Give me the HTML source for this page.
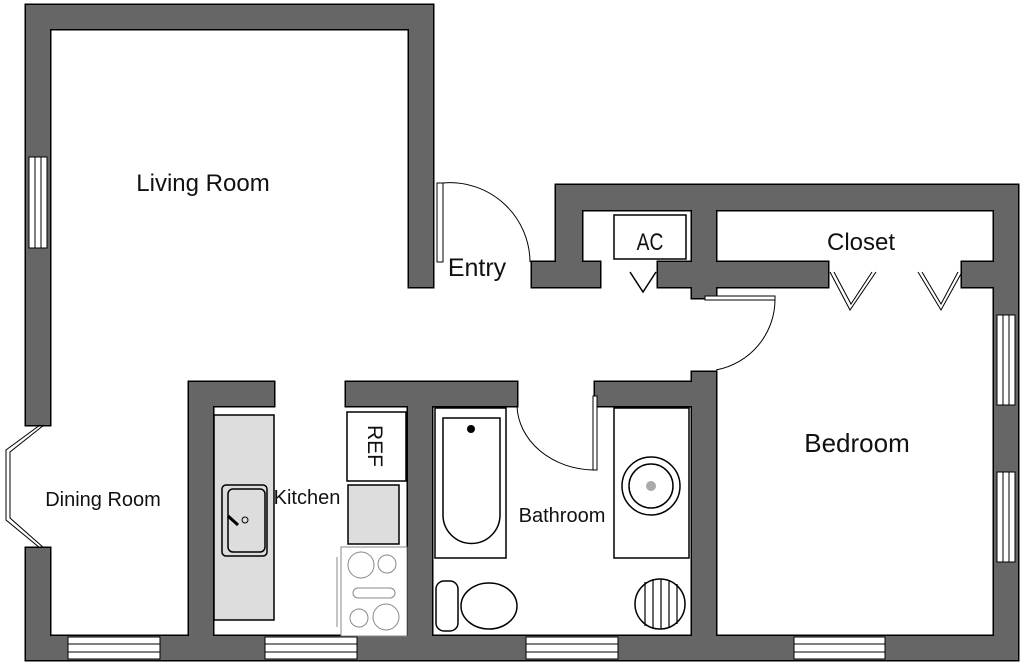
<!DOCTYPE html>
<html><head><style>body{margin:0;background:#fff}svg{display:block}text{font-family:"Liberation Sans",sans-serif;fill:#111}</style></head><body>
<svg width="1024" height="666" viewBox="0 0 1024 666">
<defs>
<g id="walls">
<rect x="26" y="5" width="407" height="24"/>
<rect x="26" y="5" width="24" height="420"/>
<rect x="26" y="548" width="24" height="112"/>
<rect x="409" y="5" width="24" height="282"/>
<rect x="532" y="262" width="68" height="25"/>
<rect x="556" y="185" width="462" height="25"/>
<rect x="556" y="185" width="26" height="102"/>
<rect x="692" y="185" width="24" height="113"/>
<rect x="658" y="262" width="170" height="25"/>
<rect x="962" y="262" width="56" height="25"/>
<rect x="994" y="185" width="24" height="475"/>
<rect x="26" y="636" width="992" height="24"/>
<rect x="189" y="382" width="85" height="24"/>
<rect x="189" y="382" width="24" height="254"/>
<rect x="346" y="382" width="171" height="24"/>
<rect x="408" y="382" width="24" height="254"/>
<rect x="595" y="382" width="121" height="24"/>
<rect x="692" y="372" width="24" height="264"/>
</g>
</defs>
<use href="#walls" fill="#666" stroke="#000" stroke-width="3"/>
<use href="#walls" fill="#666" stroke="none"/>
<!-- windows -->
<g fill="#fff" stroke="#000" stroke-width="1">
<rect x="29" y="157" width="18" height="91"/><line x1="35" y1="157" x2="35" y2="248"/><line x1="41" y1="157" x2="41" y2="248"/>
<rect x="997" y="315" width="18" height="90"/><line x1="1003" y1="315" x2="1003" y2="405"/><line x1="1009" y1="315" x2="1009" y2="405"/>
<rect x="997" y="472" width="18" height="90"/><line x1="1003" y1="472" x2="1003" y2="562"/><line x1="1009" y1="472" x2="1009" y2="562"/>
<rect x="68" y="637" width="92" height="22"/><line x1="68" y1="644" x2="160" y2="644"/><line x1="68" y1="652" x2="160" y2="652"/>
<rect x="265" y="637" width="92" height="22"/><line x1="265" y1="644" x2="357" y2="644"/><line x1="265" y1="652" x2="357" y2="652"/>
<rect x="526" y="637" width="92" height="22"/><line x1="526" y1="644" x2="618" y2="644"/><line x1="526" y1="652" x2="618" y2="652"/>
<rect x="794" y="637" width="91" height="22"/><line x1="794" y1="644" x2="885" y2="644"/><line x1="794" y1="652" x2="885" y2="652"/>
</g>
<g fill="none" stroke="#000" stroke-width="1">
<polyline points="40,425 6,450 6,520 40,548"/><polyline points="44,425 10,452 10,518 44,548"/>
</g>
<!-- doors -->
<g fill="none" stroke="#000" stroke-width="1">
<rect x="437" y="183" width="6" height="79" fill="#fff"/>
<path d="M443,183 A80,80 0 0 1 530,262"/>
<rect x="705" y="296" width="70" height="4" fill="#fff"/>
<path d="M775,298 A72,72 0 0 1 716,370"/>
<rect x="593" y="396" width="4" height="74" fill="#fff"/>
<path d="M517,406 A78,66 0 0 0 593,470"/>
<polyline points="630,272 643,292 656,272" stroke-width="1.5"/>
<polyline points="830,272 850,310 876,272"/><polyline points="834,272 851,304 872,272"/>
<polyline points="918,272 941,310 962,272"/><polyline points="922,272 941,304 958,272"/>
</g>
<rect x="614" y="215" width="72" height="44" fill="#fff" stroke="#000" stroke-width="1.5"/>
<text x="650" y="250" font-size="24" text-anchor="middle" transform="translate(650,0) scale(0.8,1) translate(-650,0)">AC</text>
<!-- kitchen -->
<rect x="214" y="415" width="60" height="205" fill="#ddd" stroke="#000" stroke-width="1.5"/>
<rect x="222" y="485" width="45" height="71" rx="4" fill="#ddd" stroke="#000" stroke-width="1.5"/>
<rect x="228" y="489" width="37" height="63" rx="5" fill="#ddd" stroke="#000" stroke-width="1.5"/>
<line x1="228" y1="516" x2="238" y2="525" stroke="#000" stroke-width="3"/>
<circle cx="245" cy="520" r="3" fill="none" stroke="#000"/>
<rect x="347" y="412" width="59" height="69" fill="#fff" stroke="#000" stroke-width="1.5"/>
<text transform="translate(368,446) rotate(90)" font-size="21" text-anchor="middle">REF</text>
<rect x="348" y="485" width="51" height="59" fill="#ddd" stroke="#000" stroke-width="1.5"/>
<g fill="none" stroke="#888" stroke-width="1">
<rect x="341" y="547" width="66" height="89" fill="#fff"/>
<circle cx="361" cy="565" r="13"/><circle cx="387" cy="564" r="9"/>
<rect x="353" y="588" width="42" height="10" rx="5"/>
<circle cx="359" cy="618" r="9"/><circle cx="386" cy="617" r="13"/>
<line x1="337" y1="557" x2="337" y2="627"/>
</g>
<!-- bathroom -->
<g fill="#fff" stroke="#000" stroke-width="1.5">
<rect x="435" y="408" width="71" height="150"/>
<path d="M443,418 H500 V515 A28,28 0 0 1 443,515 Z"/>
<rect x="436" y="581" width="22" height="50" rx="8"/>
<ellipse cx="489" cy="606" rx="28" ry="23"/>
<rect x="614" y="408" width="75" height="150"/>
<circle cx="651" cy="486" r="29"/><circle cx="651" cy="486" r="22"/>
<circle cx="660" cy="604" r="25"/>
</g>
<circle cx="471" cy="429" r="4" fill="#000"/>
<circle cx="651" cy="486" r="5" fill="#aaa"/>
<g stroke="#000" stroke-width="1.2"><line x1="645" y1="582" x2="645" y2="626"/><line x1="653" y1="580" x2="653" y2="628"/><line x1="661" y1="579" x2="661" y2="629"/><line x1="669" y1="580" x2="669" y2="628"/><line x1="677" y1="584" x2="677" y2="624"/></g>
<!-- labels -->
<text x="203" y="191" font-size="24" text-anchor="middle">Living Room</text>
<text x="477" y="276" font-size="25" text-anchor="middle">Entry</text>
<text x="861" y="250" font-size="24" text-anchor="middle">Closet</text>
<text x="857" y="452" font-size="26" text-anchor="middle">Bedroom</text>
<text x="103" y="506" font-size="20" text-anchor="middle">Dining Room</text>
<text x="307" y="504" font-size="20" text-anchor="middle">Kitchen</text>
<text x="562" y="522" font-size="20" text-anchor="middle">Bathroom</text>
</svg>
</body></html>
